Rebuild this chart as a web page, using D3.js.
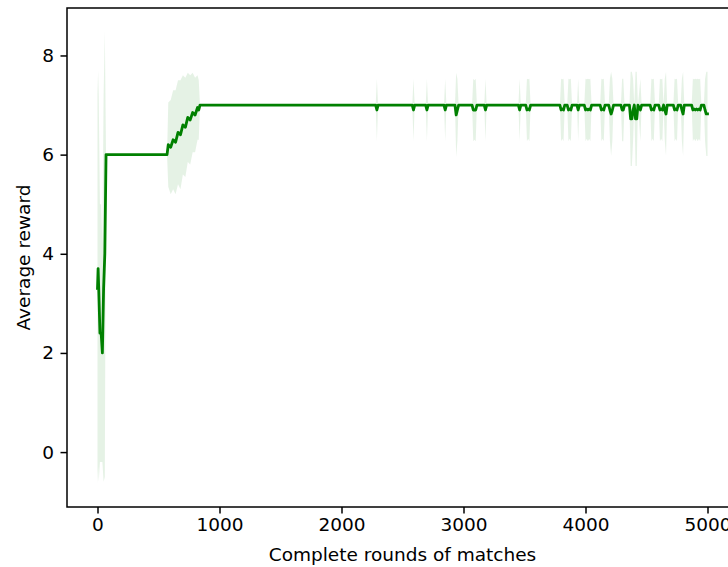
<!DOCTYPE html>
<html>
<head>
<meta charset="utf-8">
<script src="https://cdn.jsdelivr.net/npm/d3@7"></script>
<style>
  body { margin: 0; background: #fff; }
  svg { display: block; font-family: "DejaVu Sans", sans-serif; }
</style>
</head>
<body>
<div id="chart"></div>
<script>
//============================================================
// Data
//------------------------------------------------------------

var rounds = [
    0, 5, 10, 20, 30, 40, 50, 60, 70,
    570, 580, 600, 620, 640, 660, 680, 700, 720, 740, 760, 780, 800, 820, 830, 840,
    2280, 2290, 2300,
    2580, 2590, 2600,
    2690, 2700, 2710,
    2840, 2850, 2860,
    2930, 2940, 2950, 2960,
    3070, 3080, 3090, 3100, 3110,
    3170, 3180, 3190,
    3450, 3460, 3470,
    3510, 3520, 3530, 3540, 3550,
    3790, 3800, 3810, 3820, 3830,
    3850, 3860, 3870, 3880, 3890,
    3930, 3940, 3950,
    3990, 4000, 4010, 4020, 4030, 4040, 4050,
    4120, 4130, 4140, 4150, 4160,
    4190, 4200, 4210, 4220, 4230,
    4290, 4300, 4310, 4320,
    4360, 4370, 4380, 4390, 4400, 4410, 4420, 4430,
    4450, 4460,
    4530, 4540, 4550, 4560, 4570,
    4600, 4610, 4620, 4630, 4640, 4650, 4660, 4670,
    4720, 4730, 4740, 4750, 4760,
    4780, 4790, 4800, 4810,
    4870, 4880, 4890, 4900, 4910, 4920, 4930, 4940, 4950,
    4970, 4980, 4990, 5000
];

var meanReward = [
    3.3, 3.7, 3.3, 2.4, 2.4, 2.0, 3.3, 4.0, 6.0,
    6.0, 6.2, 6.15, 6.3, 6.25, 6.45, 6.4, 6.6, 6.55, 6.75, 6.7, 6.85, 6.8, 6.95, 6.9, 7.0,
    7, 6.9, 7,
    7, 6.9, 7,
    7, 6.9, 7,
    7, 6.9, 7,
    7, 6.8, 6.9, 7,
    7, 6.9, 6.9, 6.9, 7,
    7, 6.9, 7,
    7, 6.9, 7,
    7, 6.9, 6.92, 6.9, 7,
    7, 6.9, 6.92, 6.9, 7,
    7, 6.9, 6.92, 6.9, 7,
    7, 6.9, 7,
    7, 6.9, 6.92, 6.9, 6.92, 6.9, 7,
    7, 6.9, 6.92, 6.9, 7,
    7, 6.9, 6.82, 6.9, 7,
    7, 6.9, 6.9, 7,
    7, 6.72, 6.72, 6.9, 7, 6.72, 6.72, 7,
    6.9, 7,
    7, 6.9, 6.92, 6.9, 7,
    7, 6.9, 6.92, 6.9, 7, 6.9, 6.82, 7,
    7, 6.9, 6.92, 6.9, 7,
    7, 6.9, 6.82, 7,
    7, 6.9, 6.92, 6.9, 6.92, 6.9, 6.92, 6.9, 7,
    7, 6.9, 6.82, 6.82
];

var stdReward = [
    3.95, 4.0, 3.9, 2.6, 2.6, 2.2, 3.9, 4.5, 0,
    0, 0.85, 0.95, 1.0, 1.05, 1.05, 1.1, 1.0, 1.0, 0.9, 0.9, 0.8, 0.75, 0.65, 0.6, 0,
    0, 0.63, 0,
    0, 0.63, 0,
    0, 0.63, 0,
    0, 0.63, 0,
    0, 0.85, 0.63, 0,
    0, 0.63, 0.6, 0.63, 0,
    0, 0.63, 0,
    0, 0.63, 0,
    0, 0.63, 0.6, 0.63, 0,
    0, 0.63, 0.6, 0.63, 0,
    0, 0.63, 0.6, 0.63, 0,
    0, 0.63, 0,
    0, 0.63, 0.6, 0.63, 0.6, 0.63, 0,
    0, 0.63, 0.6, 0.63, 0,
    0, 0.63, 0.85, 0.63, 0,
    0, 0.63, 0.63, 0,
    0, 0.95, 0.95, 0.63, 0, 0.95, 0.95, 0,
    0.63, 0,
    0, 0.63, 0.6, 0.63, 0,
    0, 0.63, 0.6, 0.63, 0, 0.63, 0.85, 0,
    0, 0.63, 0.6, 0.63, 0,
    0, 0.63, 0.85, 0,
    0, 0.63, 0.6, 0.63, 0.6, 0.63, 0.6, 0.63, 0,
    0, 0.63, 0.85, 0.85
];

var xTicks = [0, 1000, 2000, 3000, 4000, 5000];
var yTicks = [0, 2, 4, 6, 8];

//============================================================
// Layout
//------------------------------------------------------------

var width = 728,
    height = 567,
    plot = { left: 67, top: 8, right: 738, bottom: 507 },
    fontSize = 18.5,
    tickLen = 6.5,
    tickPad = 6.5,
    lineColor = "#008000";

var data = rounds.map(function(r, i) {
    return { x: r, mean: meanReward[i], std: stdReward[i] };
});
if (rounds.length != meanReward.length || rounds.length != stdReward.length) {
    console.error("data arrays differ in length");
}

// matplotlib style 5% margins
function padded(lo, hi) {
    var m = (hi - lo) * 0.05;
    return [lo - m, hi + m];
}

var x = d3.scaleLinear()
    .domain(padded(d3.min(rounds), d3.max(rounds)))
    .range([plot.left, plot.right]);

var y = d3.scaleLinear()
    .domain(padded(d3.min(data, function(d) { return d.mean - d.std; }),
                   d3.max(data, function(d) { return d.mean + d.std; })))
    .range([plot.bottom, plot.top]);

var svg = d3.select("#chart").append("svg")
    .attr("width", width)
    .attr("height", height);

svg.append("defs").append("clipPath")
    .attr("id", "clip")
    .append("rect")
    .attr("x", plot.left)
    .attr("y", plot.top)
    .attr("width", plot.right - plot.left)
    .attr("height", plot.bottom - plot.top);

var g = svg.append("g").attr("clip-path", "url(#clip)");

// std band
g.append("path")
    .datum(data)
    .attr("fill", lineColor)
    .attr("fill-opacity", 0.1)
    .attr("stroke", "none")
    .attr("d", d3.area()
        .x(function(d) { return x(d.x); })
        .y0(function(d) { return y(d.mean - d.std); })
        .y1(function(d) { return y(d.mean + d.std); }));

// mean line
g.append("path")
    .datum(data)
    .attr("fill", "none")
    .attr("stroke", lineColor)
    .attr("stroke-width", 2.8)
    .attr("stroke-linejoin", "round")
    .attr("stroke-linecap", "square")
    .attr("d", d3.line()
        .x(function(d) { return x(d.x); })
        .y(function(d) { return y(d.mean); }));

//============================================================
// Axes
//------------------------------------------------------------

var xAxis = svg.append("g")
    .attr("transform", "translate(0," + plot.bottom + ")")
    .call(d3.axisBottom(x).tickValues(xTicks).tickSize(tickLen).tickPadding(tickPad - 2).tickFormat(d3.format("d")));

var yAxis = svg.append("g")
    .attr("transform", "translate(" + plot.left + ",0)")
    .call(d3.axisLeft(y).tickValues(yTicks).tickSize(tickLen).tickPadding(tickPad).tickFormat(d3.format("d")));

[xAxis, yAxis].forEach(function(a) {
    a.select(".domain").remove();
    a.selectAll(".tick line").attr("stroke", "#000").attr("stroke-width", 1.5);
    a.selectAll(".tick text")
        .attr("fill", "#000")
        .style("font-size", fontSize + "px")
        .style("font-family", "'DejaVu Sans', sans-serif");
});

// spines (right one falls outside the window)
svg.append("rect")
    .attr("x", plot.left)
    .attr("y", plot.top)
    .attr("width", plot.right - plot.left)
    .attr("height", plot.bottom - plot.top)
    .attr("fill", "none")
    .attr("stroke", "#000")
    .attr("stroke-width", 1.5);

svg.append("text")
    .attr("x", (plot.left + plot.right) / 2)
    .attr("y", 561)
    .attr("text-anchor", "middle")
    .style("font-size", fontSize + "px")
    .text("Complete rounds of matches");

svg.append("text")
    .attr("transform", "translate(30," + (plot.top + plot.bottom) / 2 + ") rotate(-90)")
    .attr("text-anchor", "middle")
    .style("font-size", fontSize + "px")
    .text("Average reward");
</script>
</body>
</html>
